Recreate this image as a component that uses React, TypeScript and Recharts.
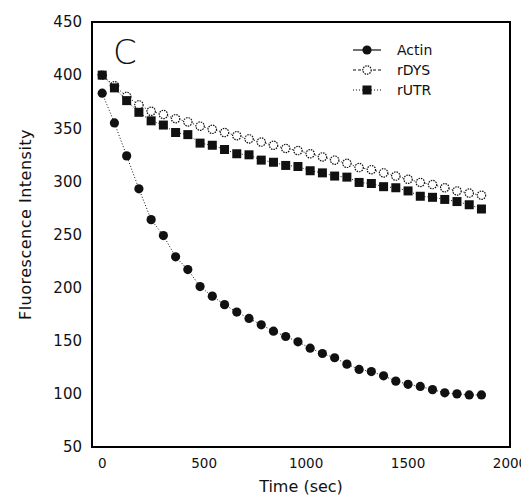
import { LineChart, Line, XAxis, YAxis, ReferenceArea } from "recharts";

const times = [
  0, 60, 120, 180, 240, 300, 360, 420, 480, 540, 600, 660, 720, 780, 840, 900,
  960, 1020, 1080, 1140, 1200, 1260, 1320, 1380, 1440, 1500, 1560, 1620, 1680, 1740, 1800, 1860,
];
const actin = [
  383, 355, 324, 293, 264, 249, 229, 217, 201, 192, 184, 177, 171, 165, 159, 154,
  149, 143, 138, 134, 128, 123, 121, 117, 112, 109, 107, 104, 101, 100, 99, 99,
];
const rDYS = [
  400, 390, 380, 372, 366, 363, 359, 356, 352, 349, 346, 343, 340, 337, 334, 331,
  329, 326, 323, 320, 317, 313, 311, 308, 305, 302, 299, 297, 294, 291, 289, 287,
];
const rUTR = [
  400, 388, 376, 365, 357, 353, 346, 344, 336, 334, 330, 326, 325, 320, 318, 315,
  314, 310, 308, 305, 304, 299, 298, 295, 294, 291, 286, 285, 283, 281, 278, 274,
];
const xTicks = [0, 500, 1000, 1500, 2000];
const yTicks = [50, 100, 150, 200, 250, 300, 350, 400, 450];

const data = times.map((t, i) => ({ t, actin: actin[i], rDYS: rDYS[i], rUTR: rUTR[i] }));

const font = "'DejaVu Sans', sans-serif";
const ink = "#111";

const FilledDot = (p: any) => <circle key={p.index} cx={p.cx} cy={p.cy} r={4.6} fill={ink} />;
const OpenDot = (p: any) => (
  <circle key={p.index} cx={p.cx} cy={p.cy} r={4.2} fill="#fff" stroke={ink} strokeWidth={1.2} strokeDasharray="1.5 1" />
);
const SquareDot = (p: any) => <rect key={p.index} x={p.cx - 4.5} y={p.cy - 4.5} width={9} height={9} fill={ink} />;

const legendRows = [
  { name: "Actin", dash: undefined, Mark: FilledDot },
  { name: "rDYS", dash: "3 2", Mark: OpenDot },
  { name: "rUTR", dash: "1 2", Mark: SquareDot },
];

function LegendBox() {
  return (
    <div style={{ position: "absolute", left: 345, top: 32, fontFamily: font, fontSize: 14, color: ink }}>
      {legendRows.map(({ name, dash, Mark }) => (
        <div key={name} style={{ display: "flex", alignItems: "center", height: 20 }}>
          <svg width={28} height={12}>
            <line x1={0} x2={28} y1={6} y2={6} stroke={ink} strokeWidth={1.2} strokeDasharray={dash} />
            {Mark({ cx: 14, cy: 6, index: 0 })}
          </svg>
          <span style={{ marginLeft: 16 }}>{name}</span>
        </div>
      ))}
    </div>
  );
}

function YTitle({ viewBox }: any) {
  const cx = viewBox.x + 17;
  const cy = viewBox.y + viewBox.height / 2 - 10;
  return (
    <text x={cx} y={cy} transform={`rotate(-90 ${cx} ${cy})`} textAnchor="middle" dominantBaseline="central"
      fontFamily={font} fontSize={16} fill={ink} letterSpacing={0.5}>
      Fluorescence Intensity
    </text>
  );
}

export default function App() {
  const yTick = { fontFamily: font, fontSize: 15, fill: ink };
  const xTick = { fontFamily: font, fontSize: 13.5, fill: ink };
  return (
    <div style={{ position: "relative", width: 521, height: 490 }}>
      <LineChart width={521} height={490} data={data} margin={{ top: 14, right: 19, bottom: 0, left: 0 }}>
        <XAxis dataKey="t" type="number" domain={[-50, 2000]} ticks={xTicks} height={51}
          axisLine={{ stroke: "#000", strokeWidth: 2 }} tickLine={false} tickSize={6} tickMargin={5} tick={xTick}
          label={{ value: "Time (sec)", position: "insideBottom", offset: 6, style: { fontFamily: font, fontSize: 16, fill: ink } }} />
        <YAxis type="number" domain={[50, 450]} ticks={yTicks} width={84}
          axisLine={{ stroke: "#000", strokeWidth: 2 }} tickLine={false} tickSize={6} tickMargin={4} tick={yTick}
          label={<YTitle />} />
        <ReferenceArea x1={-50} x2={2000} y1={50} y2={450} fill="#fff" fillOpacity={0} stroke="#000" strokeWidth={2} />
        <Line dataKey="rDYS" name="rDYS" stroke={ink} strokeWidth={1} strokeDasharray="1 2" dot={OpenDot} isAnimationActive={false} />
        <Line dataKey="rUTR" name="rUTR" stroke={ink} strokeWidth={1} strokeDasharray="1 2" dot={SquareDot} isAnimationActive={false} />
        <Line dataKey="actin" name="Actin" stroke={ink} strokeWidth={1} strokeDasharray="1 2" dot={FilledDot} isAnimationActive={false} />
      </LineChart>
      <LegendBox />
      <div style={{ position: "absolute", left: 105, top: 27, fontFamily: font, fontSize: 34, fontWeight: 200, lineHeight: 1, color: ink }}>
        C
      </div>
    </div>
  );
}
